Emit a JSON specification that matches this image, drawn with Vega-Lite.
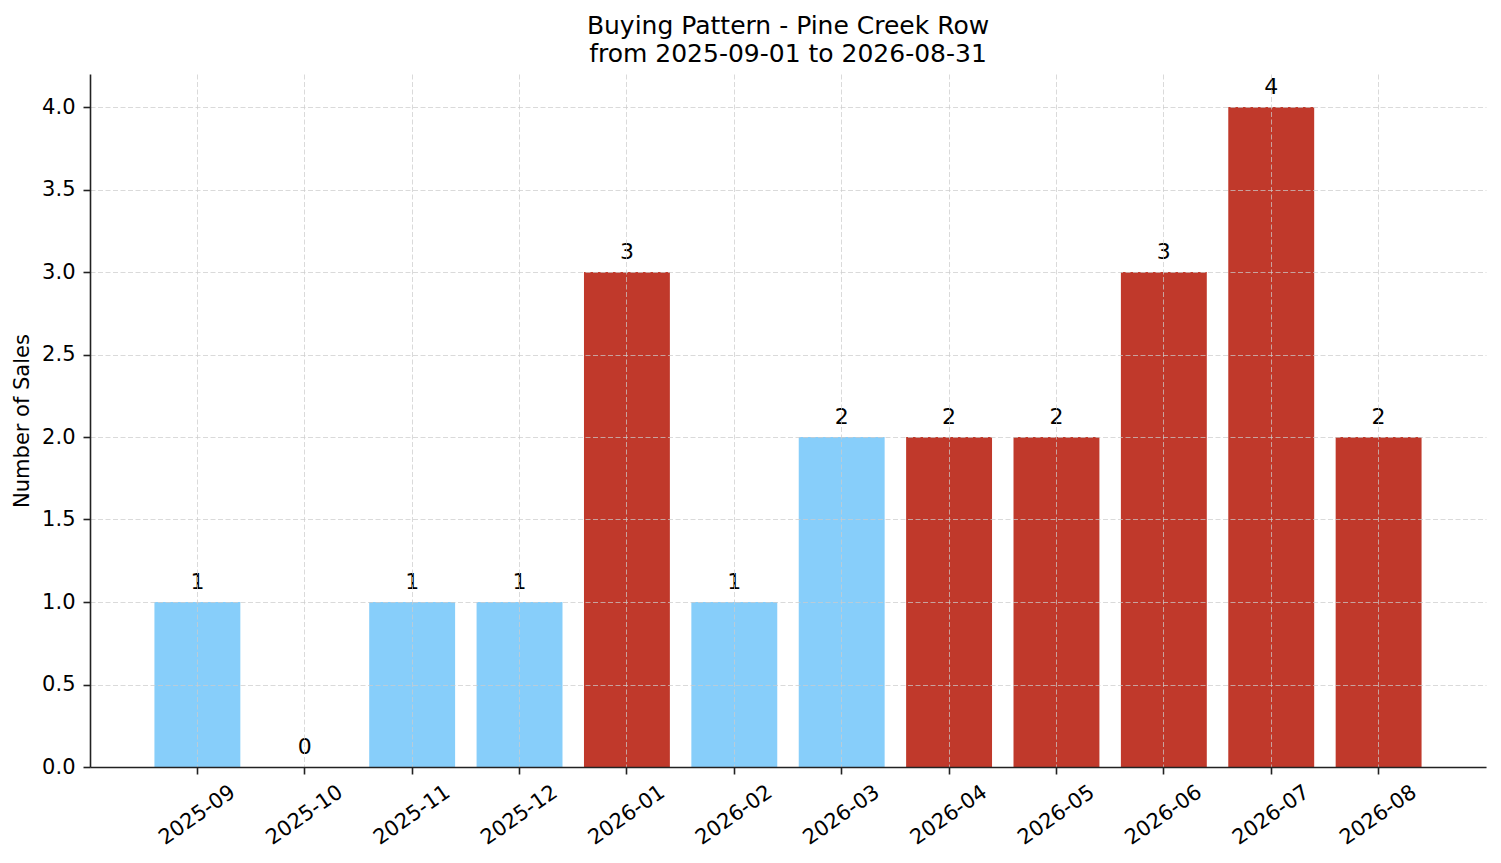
{
  "$schema": "https://vega.github.io/schema/vega-lite/v6.json",
  "width": 1396,
  "height": 693,
  "autosize": {"type": "none"},
  "padding": {"left": 90, "top": 74, "right": 15, "bottom": 96},
  "background": "white",
  "title": {
    "text": ["Buying Pattern - Pine Creek Row", "from 2025-09-01 to 2026-08-31"],
    "font": "DejaVu Sans",
    "fontSize": 25,
    "fontWeight": "normal",
    "color": "black",
    "lineHeight": 28,
    "anchor": "middle",
    "offset": 7
  },
  "config": {
    "font": "DejaVu Sans",
    "view": {"stroke": null}
  },
  "data": {
    "values": [
      {"month": "2025-09", "sales": 1, "flag": "normal"},
      {"month": "2025-10", "sales": 0, "flag": "normal"},
      {"month": "2025-11", "sales": 1, "flag": "normal"},
      {"month": "2025-12", "sales": 1, "flag": "normal"},
      {"month": "2026-01", "sales": 3, "flag": "high"},
      {"month": "2026-02", "sales": 1, "flag": "normal"},
      {"month": "2026-03", "sales": 2, "flag": "normal"},
      {"month": "2026-04", "sales": 2, "flag": "high"},
      {"month": "2026-05", "sales": 2, "flag": "high"},
      {"month": "2026-06", "sales": 3, "flag": "high"},
      {"month": "2026-07", "sales": 4, "flag": "high"},
      {"month": "2026-08", "sales": 2, "flag": "high"}
    ]
  },
  "encoding": {
    "x": {
      "field": "month",
      "type": "ordinal",
      "sort": null,
      "title": null,
      "scale": {"paddingInner": 0.2, "paddingOuter": 0.6},
      "axis": {
        "zindex": 1,
        "bandPosition": 0.5,
        "labelAngle": -35,
        "labelAlign": "center",
        "labelBaseline": "middle",
        "labelPadding": 41,
        "labelFontSize": 21,
        "labelColor": "black",
        "tickSize": 7,
        "tickWidth": 1.6,
        "tickColor": "#222222",
        "domainColor": "#222222",
        "domainWidth": 1.6,
        "grid": true,
        "gridColor": "#cccccc",
        "gridDash": [5, 2.5],
        "gridWidth": 0.9,
        "gridOpacity": 0.8
      }
    },
    "y": {
      "field": "sales",
      "type": "quantitative",
      "title": "Number of Sales",
      "scale": {"domain": [0, 4.2], "nice": false},
      "axis": {
        "zindex": 1,
        "values": [0, 0.5, 1, 1.5, 2, 2.5, 3, 3.5, 4],
        "format": ".1f",
        "labelFontSize": 21,
        "labelColor": "black",
        "labelPadding": 8,
        "tickSize": 7,
        "tickWidth": 1.6,
        "tickColor": "#222222",
        "domainColor": "#222222",
        "domainWidth": 1.6,
        "titleFontSize": 21,
        "titleFontWeight": "normal",
        "titleColor": "black",
        "titlePadding": 9,
        "grid": true,
        "gridColor": "#cccccc",
        "gridDash": [5, 2.5],
        "gridWidth": 0.9,
        "gridOpacity": 0.8
      }
    }
  },
  "layer": [
    {
      "mark": {"type": "bar"},
      "encoding": {
        "color": {
          "field": "flag",
          "type": "nominal",
          "scale": {"domain": ["normal", "high"], "range": ["#87CEFA", "#C0392B"]},
          "legend": null
        }
      }
    },
    {
      "mark": {
        "type": "text",
        "baseline": "alphabetic",
        "align": "center",
        "dy": -13,
        "fontSize": 22,
        "color": "black"
      },
      "encoding": {
        "text": {"field": "sales", "type": "quantitative"}
      }
    }
  ]
}
